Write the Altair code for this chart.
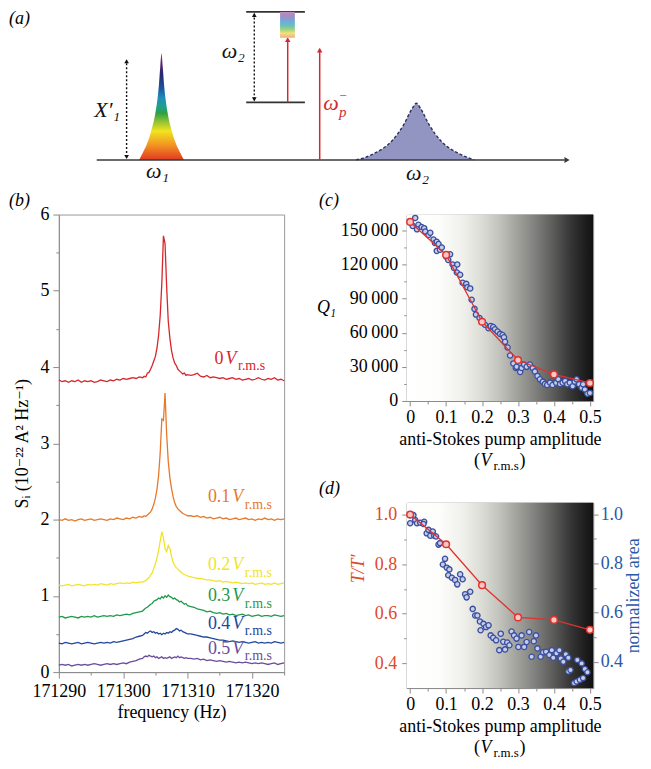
import altair as alt
import pandas as pd

FONT = "Liberation Serif, DejaVu Serif, serif"

# ---------------- Panel (a): schematic (abstract units) ----------------
A_U_DOMAIN = [-0.793, 11.211]
A_V_DOMAIN = [-1.786, 8.547]
A_PEAK1_U = [0.887, 0.960, 1.044, 1.138, 1.232, 1.274, 1.305, 1.330, 1.357,
             1.384, 1.409, 1.441, 1.482, 1.576, 1.670, 1.754, 1.827]
A_PEAK1_V = [0, 0.45, 1.0, 1.9, 3.2, 4.1, 5.1, 6.2, 7.12, 6.2, 5.1, 4.1, 3.2, 1.9, 1.0, 0.45, 0]
A_PEAK2_U = [5.43, 5.61, 5.82, 6.17, 6.43, 6.61, 6.695, 6.78, 6.96, 7.22, 7.57, 7.78, 7.91]
A_PEAK2_V = [0, 0.15, 0.45, 1.23, 2.36, 3.45, 3.79, 3.45, 2.36, 1.23, 0.45, 0.15, 0]
A_AXIS_U0, A_AXIS_U1, A_AXIS_V = [0.0], [9.8], [0.0]
A_AXHEAD_U, A_AXHEAD_V = [9.85], [0.0]
A_LEVEL_U0, A_LEVEL_U1, A_LEVEL_V = [3.13, 3.13], [4.36, 4.36], [9.9, 3.85]
A_DOT_U, A_DOT_V0, A_DOT_V1 = [0.626, 3.30], [0.2, 4.05], [6.6, 9.7]
A_RED_U, A_RED_V0, A_RED_V1 = [4.0, 4.67], [3.85, 0.0], [8.0, 7.3]
A_HEAD_U = [0.626, 0.626, 3.30, 3.30, 4.0, 4.67]
A_HEAD_V = [6.6, 0.2, 9.7, 4.05, 8.05, 7.35]
A_HEAD_SHAPE = ["triangle-up", "triangle-down", "triangle-up", "triangle-down", "triangle-up", "triangle-up"]
A_HEAD_COLOR = ["#111111", "#111111", "#111111", "#111111", "#d42a2f", "#d42a2f"]
A_HEAD_SIZE = [22, 22, 22, 22, 30, 30]
A_BAR_U0, A_BAR_U1, A_BAR_V0, A_BAR_V1 = [3.84], [4.15], [8.17], [9.9]
A_TEXT = ["X\u2032\u2081", "\u03c9\u2081", "\u03c9\u2082", "\u03c9\u2082", "\u03c9"]
A_TEXT_U = [0.219, 1.273, 2.86, 6.72, 4.906]
A_TEXT_V = [3.37, -0.77, 7.25, -0.9, 3.83]
A_TEXT_COLOR = ["#111111", "#111111", "#111111", "#111111", "#d42a2f"]
A_SCRIPT = ["p", "\u2212"]
A_SCRIPT_U = [5.073, 5.073]
A_SCRIPT_V = [3.23, 4.25]
A_SCRIPT_SIZE = [15, 13]

RAINBOW = [(0.0, "#9a3c7c"), (0.08, "#5a2a74"), (0.2, "#28286e"), (0.33, "#1b56a2"),
           (0.42, "#1f8fb8"), (0.5, "#1fa08c"), (0.56, "#2ea043"), (0.65, "#9cc631"),
           (0.73, "#f2e41f"), (0.86, "#f29422"), (1.0, "#e03a22")]
BAR_STOPS = [(0.0, "#c08ab4"), (0.2, "#9a90cc"), (0.4, "#6ab0d8"), (0.55, "#6cc4b0"),
             (0.7, "#a8d47a"), (0.82, "#f2e27a"), (1.0, "#f2aa8a")]
BG_STOPS = [(0.0, "#ffffff"), (0.173, "#fdfdfb"), (0.307, "#efefeb"), (0.404, "#dcdcd6"),
            (0.5, "#c2c2bc"), (0.597, "#a0a09b"), (0.693, "#7e7e7b"), (0.79, "#5a5a59"),
            (0.886, "#333333"), (1.0, "#111111")]

# ---------------- Panel (b): spectra ----------------
FREQ = ([171290 + 0.5 * i for i in range(26)] + [171303 + 0.25 * i for i in range(29)]
        + [171310.5 + 0.5 * i for i in range(30)])
S_00 = [3.83, 3.81, 3.82, 3.80, 3.82, 3.81, 3.83, 3.80, 3.82, 3.81, 3.82, 3.80, 3.81, 3.83, 3.82, 3.81, 3.83, 3.82, 3.84, 3.83, 3.85, 3.84, 3.85, 3.86, 3.85, 3.87,
        3.86, 3.88, 3.87, 3.92, 3.93, 3.97, 4.02, 4.08, 4.14, 4.25, 4.42, 4.68, 5.10, 5.72, 5.62, 5.05, 4.60, 4.38, 4.22, 4.12, 4.05, 4.02, 3.97, 3.95, 3.93, 3.91, 3.92, 3.89, 3.90,
        3.89, 3.90, 3.92, 3.88, 3.87, 3.89, 3.86, 3.87, 3.86, 3.85, 3.86, 3.84, 3.85, 3.86, 3.84, 3.85, 3.83, 3.84, 3.85, 3.83, 3.84, 3.86, 3.84, 3.83, 3.85, 3.84, 3.86, 3.83, 3.84, 3.82]
S_01 = [2.00, 1.99, 2.01, 1.99, 2.00, 1.98, 2.00, 2.01, 1.99, 2.00, 2.01, 1.99, 2.00, 2.01, 2.00, 1.99, 2.01, 2.00, 2.02, 2.01, 2.00, 2.02, 2.01, 2.03, 2.02, 2.04,
        2.03, 2.05, 2.04, 2.06, 2.08, 2.10, 2.14, 2.20, 2.28, 2.40, 2.58, 2.88, 3.32, 3.30, 3.66, 3.12, 2.76, 2.55, 2.41, 2.30, 2.22, 2.17, 2.14, 2.12, 2.10, 2.08, 2.07, 2.06, 2.05,
        2.05, 2.04, 2.05, 2.03, 2.04, 2.02, 2.03, 2.01, 2.02, 2.03, 2.01, 2.02, 2.00, 2.01, 2.02, 2.00, 2.01, 2.02, 2.00, 2.01, 1.99, 2.01, 2.00, 2.02, 2.00, 2.01, 1.99, 2.01, 2.00, 2.01]
S_02 = [1.14, 1.13, 1.14, 1.15, 1.13, 1.14, 1.15, 1.14, 1.13, 1.15, 1.14, 1.15, 1.14, 1.16, 1.15, 1.14, 1.16, 1.15, 1.16, 1.17, 1.16, 1.17, 1.16, 1.18, 1.17, 1.18,
        1.18, 1.19, 1.20, 1.22, 1.24, 1.27, 1.30, 1.36, 1.42, 1.50, 1.60, 1.72, 1.84, 1.76, 1.62, 1.58, 1.66, 1.62, 1.52, 1.44, 1.40, 1.37, 1.35, 1.33, 1.31, 1.29, 1.28, 1.27, 1.26,
        1.25, 1.24, 1.23, 1.23, 1.22, 1.21, 1.21, 1.20, 1.19, 1.20, 1.18, 1.19, 1.18, 1.17, 1.18, 1.17, 1.16, 1.17, 1.16, 1.17, 1.15, 1.16, 1.17, 1.15, 1.16, 1.15, 1.17, 1.15, 1.16, 1.17]
S_03 = [0.72, 0.73, 0.71, 0.72, 0.73, 0.72, 0.71, 0.73, 0.72, 0.73, 0.72, 0.74, 0.72, 0.73, 0.74, 0.73, 0.74, 0.73, 0.75, 0.74, 0.75, 0.76, 0.75, 0.77, 0.78, 0.79,
        0.80, 0.82, 0.84, 0.85, 0.87, 0.89, 0.90, 0.93, 0.94, 0.95, 0.97, 0.96, 0.99, 0.97, 1.00, 0.98, 1.01, 0.99, 0.98, 0.96, 0.97, 0.95, 0.94, 0.92, 0.93, 0.91, 0.89, 0.90, 0.87,
        0.86, 0.85, 0.83, 0.82, 0.81, 0.79, 0.80, 0.78, 0.77, 0.78, 0.76, 0.77, 0.75, 0.76, 0.74, 0.75, 0.76, 0.74, 0.75, 0.73, 0.74, 0.75, 0.73, 0.74, 0.74, 0.73, 0.75, 0.74, 0.73, 0.74]
S_04 = [0.38, 0.37, 0.39, 0.38, 0.37, 0.38, 0.39, 0.37, 0.38, 0.39, 0.38, 0.37, 0.38, 0.39, 0.38, 0.39, 0.38, 0.40, 0.39, 0.40, 0.41, 0.42, 0.43, 0.44, 0.46, 0.47,
        0.48, 0.50, 0.52, 0.51, 0.53, 0.54, 0.52, 0.53, 0.51, 0.52, 0.50, 0.51, 0.49, 0.51, 0.50, 0.52, 0.51, 0.53, 0.52, 0.54, 0.55, 0.57, 0.56, 0.54, 0.55, 0.53, 0.52, 0.51, 0.50,
        0.50, 0.49, 0.48, 0.47, 0.46, 0.46, 0.45, 0.44, 0.43, 0.42, 0.42, 0.41, 0.40, 0.41, 0.40, 0.39, 0.40, 0.39, 0.38, 0.39, 0.40, 0.38, 0.39, 0.38, 0.39, 0.38, 0.40, 0.39, 0.38, 0.39]
S_05 = [0.09, 0.10, 0.09, 0.10, 0.08, 0.09, 0.10, 0.09, 0.10, 0.09, 0.10, 0.11, 0.10, 0.09, 0.10, 0.11, 0.10, 0.11, 0.10, 0.11, 0.12, 0.11, 0.13, 0.14, 0.15, 0.17,
        0.18, 0.20, 0.21, 0.20, 0.22, 0.21, 0.20, 0.21, 0.19, 0.20, 0.18, 0.19, 0.20, 0.18, 0.19, 0.18, 0.19, 0.20, 0.18, 0.19, 0.20, 0.19, 0.21, 0.19, 0.20, 0.19, 0.18, 0.19, 0.18,
        0.18, 0.17, 0.18, 0.16, 0.17, 0.15, 0.16, 0.15, 0.14, 0.15, 0.14, 0.13, 0.14, 0.13, 0.12, 0.13, 0.12, 0.13, 0.12, 0.11, 0.12, 0.11, 0.12, 0.11, 0.10, 0.11, 0.12, 0.10, 0.11, 0.12]
SERIES = ["0", "0.1", "0.2", "0.3", "0.4", "0.5"]
LINE_COLORS = ["#d7262b", "#e8792a", "#f0e42a", "#1f9a4a", "#22489c", "#6b4c9c"]
LABEL_COLORS = ["#e4572e", "#e8823a", "#f0e040", "#1f9a4a", "#22489c", "#7a5aa4"]
LABEL_Y = [4.11, 2.294, 1.399, 0.993, 0.634, 0.307]
LABEL_VX = [171315.9, 171316.95, 171316.95, 171316.95, 171316.95, 171316.95]
B_X_DOM = [171290, 171325]
B_Y_DOM = [0, 6]
B_X_TICKS = [171290, 171295, 171300, 171305, 171310, 171315, 171320, 171325]
B_Y_TICKS = [0, 0.5, 1, 1.5, 2, 2.5, 3, 3.5, 4, 4.5, 5, 5.5, 6]

# ---------------- Panels (c) and (d) ----------------
X_DOM = [-0.0095, 0.509]
X_TICKS = [0, 0.05, 0.1, 0.15, 0.2, 0.25, 0.3, 0.35, 0.4, 0.45, 0.5]
PUMP = [0, 0.1, 0.2, 0.3, 0.4, 0.5]
C_Y_DOM = [0, 164000]
C_Y_TICKS = [0, 15000, 30000, 45000, 60000, 75000, 90000, 105000, 120000, 135000, 150000]
C_RED = [157500, 128500, 69700, 36000, 23300, 15800]
C_BLUE_X = [0.014, 0.007, 0.023, 0.019, 0.032, 0.039, 0.042, 0.051, 0.056, 0.065, 0.069, 0.074, 0.079, 0.074, 0.083,
            0.088, 0.100, 0.111, 0.106, 0.118, 0.122, 0.131, 0.130, 0.139, 0.146, 0.156, 0.159, 0.167, 0.171, 0.179,
            0.183, 0.193, 0.199, 0.208, 0.218, 0.224, 0.231, 0.236, 0.243, 0.250, 0.257, 0.261, 0.264, 0.271, 0.278,
            0.287, 0.294, 0.296, 0.306, 0.310, 0.317, 0.324, 0.333, 0.341, 0.347, 0.354, 0.361, 0.369, 0.375, 0.381,
            0.389, 0.396, 0.406, 0.412, 0.417, 0.424, 0.431, 0.437, 0.444, 0.452, 0.458, 0.463, 0.470, 0.477, 0.481,
            0.486, 0.493, 0.500]
C_BLUE_Y = [161000, 154000, 155000, 151000, 153000, 152000, 149000, 146000, 148000, 142000, 139000, 140000, 138000, 132000, 133000,
            135000, 127000, 129000, 124000, 120000, 117000, 120000, 113000, 111000, 104000, 103000, 100000, 99000, 89000, 81000,
            76000, 73000, 70000, 67000, 64000, 66000, 65000, 63000, 61000, 59000, 58000, 56000, 52000, 47000, 40000,
            33000, 29000, 30000, 25500, 29000, 32000, 30000, 32000, 29000, 26000, 22000, 19000, 17000, 15000, 14000,
            16000, 14000, 16000, 19000, 15000, 16000, 17500, 14600, 16000, 13000, 17000, 19000, 14600, 11700, 14600,
            10000, 6400, 7000]
D_LEFT_DOM = [0.30, 1.048]
D_RIGHT_DOM = [0.2925, 1.048]
D_Y_TICKS = [0.4, 0.5, 0.6, 0.7, 0.8, 0.9, 1.0]
D_RED = [1.0, 0.88, 0.715, 0.585, 0.575, 0.535]
D_BLUE_X = [0.000, 0.000, 0.009, 0.014, 0.019, 0.028, 0.039, 0.037, 0.046, 0.051, 0.056, 0.063, 0.067, 0.072, 0.079,
            0.083, 0.091, 0.097, 0.102, 0.109, 0.106, 0.116, 0.125, 0.131, 0.139, 0.146, 0.153, 0.157, 0.167, 0.174,
            0.181, 0.187, 0.194, 0.196, 0.204, 0.211, 0.218, 0.224, 0.231, 0.239, 0.248, 0.252, 0.259, 0.264, 0.270,
            0.276, 0.282, 0.289, 0.296, 0.301, 0.310, 0.317, 0.324, 0.331, 0.338, 0.344, 0.350, 0.354, 0.363, 0.370,
            0.378, 0.387, 0.394, 0.398, 0.407, 0.415, 0.419, 0.426, 0.433, 0.440, 0.440, 0.446, 0.456, 0.463, 0.465,
            0.472, 0.477, 0.481, 0.486, 0.493]
D_BLUE_Y = [0.964, 0.997, 0.997, 0.977, 0.964, 0.966, 0.970, 0.961, 0.923, 0.937, 0.913, 0.930, 0.913, 0.910, 0.877,
            0.883, 0.796, 0.819, 0.783, 0.776, 0.752, 0.742, 0.733, 0.715, 0.756, 0.736, 0.675, 0.662, 0.685, 0.615,
            0.588, 0.588, 0.564, 0.528, 0.554, 0.541, 0.548, 0.507, 0.497, 0.487, 0.447, 0.514, 0.481, 0.450, 0.478,
            0.467, 0.523, 0.507, 0.494, 0.460, 0.507, 0.460, 0.480, 0.521, 0.420, 0.483, 0.507, 0.454, 0.420, 0.438,
            0.440, 0.427, 0.447, 0.416, 0.434, 0.447, 0.413, 0.400, 0.430, 0.416, 0.360, 0.366, 0.313, 0.319, 0.407,
            0.326, 0.393, 0.333, 0.370, 0.357]
VLINE_X = 0.25
RED = "#e0322e"
LEFT_RED = "#e0482a"
BLUE = "#2858a8"
AXIS_GRAY = "#8c8c8c"
LABEL_DY = -13.5


def grad(stops, horizontal=False):
    return alt.LinearGradient(
        gradient="linear",
        stops=[alt.GradientStop(color=c, offset=o) for o, c in stops],
        x1=0, y1=0, x2=1 if horizontal else 0, y2=0 if horizontal else 1)


def tick_cond(test, minor, major):
    return {"condition": {"test": test, "value": minor}, "value": major}


def panel_label(text, x0, y1, xenc, yenc, dx):
    df = pd.DataFrame({"x": [x0], "y": [y1]})
    return alt.Chart(df).mark_text(text=text, font=FONT, fontSize=18, fontStyle="italic", align="left",
                                   baseline="middle", dx=dx, dy=LABEL_DY, color="black").encode(
        x=xenc("x"), y=yenc("y"))


# ----- panel (a) -----
def ax(f):
    return alt.X(f"{f}:Q", scale=alt.Scale(domain=A_U_DOMAIN, nice=False, zero=False), axis=None)


def ay(f):
    return alt.Y(f"{f}:Q", scale=alt.Scale(domain=A_V_DOMAIN, nice=False, zero=False), axis=None)


p2 = pd.DataFrame({"u": A_PEAK2_U, "v": A_PEAK2_V, "b": [0.0] * len(A_PEAK2_U)})
p1 = pd.DataFrame({"u": A_PEAK1_U, "v": A_PEAK1_V, "b": [0.0] * len(A_PEAK1_U)})
a_layers = [
    alt.Chart(p2).mark_area(color="#9294c2", interpolate="monotone").encode(x=ax("u"), y=ay("v"), y2="b:Q"),
    alt.Chart(p2).mark_line(color="#2d2f5a", strokeDash=[3, 2], strokeWidth=1.4, interpolate="monotone").encode(x=ax("u"), y=ay("v")),
    alt.Chart(p1).mark_area(color=grad(RAINBOW), interpolate="monotone").encode(x=ax("u"), y=ay("v"), y2="b:Q"),
    alt.Chart(pd.DataFrame({"u0": A_AXIS_U0, "u1": A_AXIS_U1, "v": A_AXIS_V})).mark_rule(color="#3a3a3a", strokeWidth=1.5)
    .encode(x=ax("u0"), x2="u1:Q", y=ay("v")),
    alt.Chart(pd.DataFrame({"u": A_AXHEAD_U, "v": A_AXHEAD_V})).mark_point(shape="triangle-right", filled=True, size=36, color="#3a3a3a", opacity=1)
    .encode(x=ax("u"), y=ay("v")),
    alt.Chart(pd.DataFrame({"u0": A_LEVEL_U0, "u1": A_LEVEL_U1, "v": A_LEVEL_V})).mark_rule(color="#333333", strokeWidth=1.6)
    .encode(x=ax("u0"), x2="u1:Q", y=ay("v")),
    alt.Chart(pd.DataFrame({"u": A_DOT_U, "v0": A_DOT_V0, "v1": A_DOT_V1})).mark_rule(color="#111111", strokeWidth=1.4, strokeDash=[2, 2])
    .encode(x=ax("u"), y=ay("v0"), y2="v1:Q"),
    alt.Chart(pd.DataFrame({"u": A_RED_U, "v0": A_RED_V0, "v1": A_RED_V1})).mark_rule(color="#d42a2f", strokeWidth=1.5)
    .encode(x=ax("u"), y=ay("v0"), y2="v1:Q"),
    alt.Chart(pd.DataFrame({"u": A_HEAD_U, "v": A_HEAD_V, "s": A_HEAD_SHAPE, "c": A_HEAD_COLOR, "z": A_HEAD_SIZE}))
    .mark_point(filled=True, opacity=1)
    .encode(x=ax("u"), y=ay("v"), shape=alt.Shape("s:N", scale=None), color=alt.Color("c:N", scale=None), size=alt.Size("z:Q", scale=None)),
    alt.Chart(pd.DataFrame({"u0": A_BAR_U0, "u1": A_BAR_U1, "v0": A_BAR_V0, "v1": A_BAR_V1})).mark_rect(color=grad(BAR_STOPS))
    .encode(x=ax("u0"), x2="u1:Q", y=ay("v0"), y2="v1:Q"),
    alt.Chart(pd.DataFrame({"t": A_TEXT, "u": A_TEXT_U, "v": A_TEXT_V, "c": A_TEXT_COLOR}))
    .mark_text(font=FONT, fontStyle="italic", fontSize=22, align="center", baseline="middle")
    .encode(x=ax("u"), y=ay("v"), text="t:N", color=alt.Color("c:N", scale=None)),
    alt.Chart(pd.DataFrame({"t": A_SCRIPT, "u": A_SCRIPT_U, "v": A_SCRIPT_V, "z": A_SCRIPT_SIZE}))
    .mark_text(font=FONT, fontStyle="italic", align="left", baseline="middle", color="#d42a2f")
    .encode(x=ax("u"), y=ay("v"), text="t:N", size=alt.Size("z:Q", scale=None)),
    panel_label("(a)", A_U_DOMAIN[0], A_V_DOMAIN[1], ax, ay, -50),
]
panel_a = alt.layer(*a_layers).properties(width=575, height=155, view=alt.ViewBackground(stroke="transparent"))

# ----- panel (b) -----
dfB = pd.concat([pd.DataFrame({"freq": FREQ, "val": vals, "series": name})
                 for name, vals in zip(SERIES, [S_00, S_01, S_02, S_03, S_04, S_05])])
bx_scale = alt.Scale(domain=B_X_DOM, nice=False, zero=False)
by_scale = alt.Scale(domain=B_Y_DOM, nice=False, zero=False)
bx_axis = alt.Axis(values=B_X_TICKS, format="d", labelExpr="datum.value % 10 ? '' : datum.label",
                   tickSize=tick_cond("datum.value % 10 != 0", 3, 6), labelPadding=4,
                   title="frequency (Hz)", titlePadding=4)
by_axis = alt.Axis(values=B_Y_TICKS, format=".0f", labelExpr="datum.value % 1 ? '' : datum.label",
                   tickSize=tick_cond("datum.value % 1 != 0", 3, 6), labelPadding=4,
                   title="S\u1d62 (10\u207b\u00b2\u00b2 A\u00b2 Hz\u207b\u00b9)", titlePadding=8)


def bx(f):
    return alt.X(f"{f}:Q", scale=bx_scale, axis=bx_axis)


def by(f):
    return alt.Y(f"{f}:Q", scale=by_scale, axis=by_axis)


b_lines = alt.Chart(dfB).mark_line(strokeWidth=1.3).encode(
    x=bx("freq"), y=by("val"),
    color=alt.Color("series:N", scale=alt.Scale(domain=SERIES, range=LINE_COLORS), legend=None))
dfL = pd.DataFrame({"num": SERIES, "vx": LABEL_VX, "y": LABEL_Y})
lab_color = alt.Color("num:N", scale=alt.Scale(domain=SERIES, range=LABEL_COLORS), legend=None)
b_num = alt.Chart(dfL).mark_text(font=FONT, fontSize=18, align="right", baseline="middle", dx=-2).encode(
    x=bx("vx"), y=by("y"), text="num:N", color=lab_color)
b_v = alt.Chart(dfL).mark_text(font=FONT, fontSize=18, fontStyle="italic", align="left", baseline="middle", text="V").encode(
    x=bx("vx"), y=by("y"), color=lab_color)
b_sub = alt.Chart(dfL).mark_text(font=FONT, fontSize=14, align="left", baseline="middle", dx=12.5, dy=7.5, text="r.m.s").encode(
    x=bx("vx"), y=by("y"), color=lab_color)
panel_b = alt.layer(b_lines, b_num, b_v, b_sub, panel_label("(b)", B_X_DOM[0], B_Y_DOM[1], bx, by, -50)).properties(
    width=226, height=459, view=alt.ViewBackground(stroke="#9a9a9a"))

# ----- helpers for (c)/(d) -----
x_scale = alt.Scale(domain=X_DOM, nice=False, zero=False)
x_axis = alt.Axis(values=X_TICKS, labelPadding=3,
                  labelExpr="round(datum.value*100) % 10 ? '' : (datum.value == 0 ? '0' : format(datum.value, '.1f'))",
                  tickSize=tick_cond("round(datum.value*100) % 10 != 0", 3, 5),
                  title="anti-Stokes pump amplitude", titlePadding=4)


def cx(f):
    return alt.X(f"{f}:Q", scale=x_scale, axis=x_axis)


def vrms_layers(yenc, y0):
    df = pd.DataFrame({"x": [VLINE_X], "y": [y0]})
    pieces = [("(", -26, 60, 18, "normal"), ("V", -19.5, 60, 18, "italic"),
              ("r.m.s", -6.5, 65, 13, "normal"), (")", 19.5, 60, 18, "normal")]
    out = []
    for t, dx, dy, fs, st in pieces:
        out.append(alt.Chart(df).mark_text(font=FONT, text=t, dx=dx, dy=dy, fontSize=fs, fontStyle=st,
                                           align="left", baseline="middle", color="black")
                   .encode(x=cx("x"), y=yenc("y")))
    return out


# ----- panel (c) -----
cy_scale = alt.Scale(domain=C_Y_DOM, nice=False, zero=False)
cy_axis = alt.Axis(values=C_Y_TICKS, labelPadding=4,
                   labelExpr="datum.value % 30000 ? '' : replace(format(datum.value, ','), ',', '\u2009')",
                   tickSize=tick_cond("datum.value % 30000 != 0", 3, 5),
                   title="Q\u2081", titleAngle=0, titleX=-81, titleY=93, titleAlign="center", titleBaseline="middle",
                   titleFontStyle="italic")


def cy(f):
    return alt.Y(f"{f}:Q", scale=cy_scale, axis=cy_axis)


c_bg = alt.Chart(pd.DataFrame({"x0": [X_DOM[0]], "x1": [X_DOM[1]], "y0": [C_Y_DOM[0]], "y1": [C_Y_DOM[1]]})).mark_rect(
    color=grad(BG_STOPS, horizontal=True)).encode(x=cx("x0"), x2="x1:Q", y=cy("y0"), y2="y1:Q")
c_blue = alt.Chart(pd.DataFrame({"x": C_BLUE_X, "y": C_BLUE_Y})).mark_circle(
    size=28, fill="#c6cdea", stroke="#3a4f9f", strokeWidth=1.3, opacity=1).encode(x=cx("x"), y=cy("y"))
dfCR = pd.DataFrame({"x": PUMP, "y": C_RED})
c_rline = alt.Chart(dfCR).mark_line(color=RED, strokeWidth=1.3).encode(x=cx("x"), y=cy("y"))
c_rpts = alt.Chart(dfCR).mark_circle(size=45, fill="#f9c7c4", stroke=RED, strokeWidth=1.5, opacity=1).encode(
    x=cx("x"), y=cy("y"))
panel_c = alt.layer(c_bg, c_blue, c_rline, c_rpts, *vrms_layers(cy, C_Y_DOM[0]),
                    panel_label("(c)", X_DOM[0], C_Y_DOM[1], cx, cy, -88)).properties(
    width=187, height=187, view=alt.ViewBackground(stroke="#9a9a9a"))

# ----- panel (d) -----
dl_scale = alt.Scale(domain=D_LEFT_DOM, nice=False, zero=False)
dr_scale = alt.Scale(domain=D_RIGHT_DOM, nice=False, zero=False)
d_lab_expr = "round(datum.value*10) % 2 ? '' : format(datum.value, '.1f')"
d_tick = tick_cond("round(datum.value*10) % 2 != 0", 3, 5)
dl_axis = alt.Axis(values=D_Y_TICKS, labelExpr=d_lab_expr, tickSize=d_tick, labelPadding=5, labelColor=LEFT_RED,
                   title="T/T\u2032", titleColor=LEFT_RED, titleFontStyle="italic", titleAngle=270,
                   titleX=-48, titleY=66, titleAlign="center", titleBaseline="middle")
dr_axis = alt.Axis(orient="right", values=D_Y_TICKS, labelExpr=d_lab_expr, tickSize=d_tick, labelPadding=2,
                   labelColor=BLUE, title="normalized area", titleColor=BLUE, titleAngle=270,
                   titleX=40, titleY=93, titleAlign="center", titleBaseline="middle")


def dly(f):
    return alt.Y(f"{f}:Q", scale=dl_scale, axis=dl_axis)


d_bg = alt.Chart(pd.DataFrame({"x0": [X_DOM[0]], "x1": [X_DOM[1]], "y0": [D_LEFT_DOM[0]], "y1": [D_LEFT_DOM[1]]})).mark_rect(
    color=grad(BG_STOPS, horizontal=True)).encode(x=cx("x0"), x2="x1:Q", y=dly("y0"), y2="y1:Q")
dfDR = pd.DataFrame({"x": PUMP, "y": D_RED})
d_rline = alt.Chart(dfDR).mark_line(color=RED, strokeWidth=1.3).encode(
    x=cx("x"), y=alt.Y("y:Q", scale=dl_scale, axis=None))
d_rpts = alt.Chart(dfDR).mark_circle(size=45, fill="#f9c7c4", stroke=RED, strokeWidth=1.5, opacity=1).encode(
    x=cx("x"), y=alt.Y("y:Q", scale=dl_scale, axis=None))
d_blue = alt.Chart(pd.DataFrame({"x": D_BLUE_X, "y": D_BLUE_Y})).mark_circle(
    size=28, fill="#c6cdea", stroke="#3a4f9f", strokeWidth=1.3, opacity=1).encode(
    x=cx("x"), y=alt.Y("y:Q", scale=dr_scale, axis=dr_axis))
panel_d = alt.layer(
    alt.layer(d_bg, *vrms_layers(dly, D_LEFT_DOM[0]), panel_label("(d)", X_DOM[0], D_LEFT_DOM[1], cx, dly, -88)),
    d_blue,
    alt.layer(d_rline, d_rpts),
).resolve_scale(y="independent").properties(
    width=187, height=186, view=alt.ViewBackground(stroke="#9a9a9a"))

row = alt.hconcat(alt.vconcat(panel_b), alt.vconcat(panel_c, panel_d, spacing=6), spacing=27)
chart = alt.vconcat(panel_a, row, spacing=4).properties(
    padding={"left": 0, "top": 0, "right": 0, "bottom": 0}
).configure(padding={"left": 0, "top": 0, "right": 0, "bottom": 0}).configure_axis(
    labelFont=FONT, titleFont=FONT, labelFontSize=18, titleFontSize=18, titleFontWeight="normal",
    labelColor="black", titleColor="black", domainColor=AXIS_GRAY, tickColor=AXIS_GRAY, grid=False,
    labelFlush=False, labelOverlap=False, tickWidth=1, domainWidth=1,
).configure_text(font=FONT)

chart.save("out.html", embed_options={"renderer": "svg", "actions": False})
